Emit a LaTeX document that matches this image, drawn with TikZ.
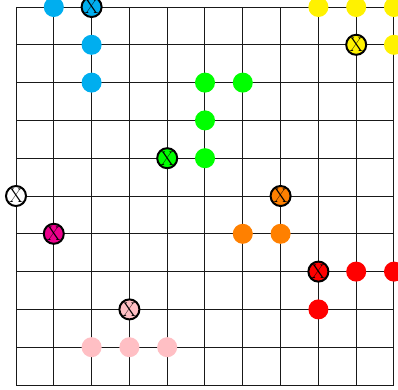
\documentclass[tikz,border=0pt]{standalone}
\definecolor{cCyan}{HTML}{00AEEF}
\definecolor{cYellow}{HTML}{FFF200}
\definecolor{cGreen}{HTML}{00FF00}
\definecolor{cOrange}{HTML}{FF8000}
\definecolor{cRed}{HTML}{FF0000}
\definecolor{cMag}{HTML}{EC008C}
\definecolor{cPink}{HTML}{FFBFC4}
\begin{document}
\begin{tikzpicture}[
  dot/.style={circle,fill=#1,draw=none,minimum size=0.53cm,inner sep=0pt},
  xdot/.style={circle,fill=#1,draw=black,line width=1.5pt,minimum size=0.53cm,inner sep=0pt,
    font=\fontsize{15}{15}\selectfont},
  gridline/.style={line width=0.75pt,black!90}
]
\useasboundingbox (-0.4233,0.1852) rectangle (10.106,-10.132);
\begin{scope}
\clip (-0.4233,0.1852) rectangle (10.106,-10.132);
\draw[gridline] (0,0) grid[step=1] (10,-10);
% cyan
\node[dot=cCyan] (c1) at (1,0) {};
\node[xdot=cCyan] (cx) at (2,0) {X};
\node[dot=cCyan] (c2) at (2,-1) {};
\node[dot=cCyan] (c3) at (2,-2) {};
% yellow
\node[dot=cYellow] (y1) at (8,0) {};
\node[dot=cYellow] (y2) at (9,0) {};
\node[dot=cYellow] (y3) at (10,0) {};
\node[xdot=cYellow] (yx) at (9,-1) {X};
\node[dot=cYellow] (y4) at (10,-1) {};
% green
\node[dot=cGreen] (g1) at (5,-2) {};
\node[dot=cGreen] (g2) at (6,-2) {};
\node[dot=cGreen] (g3) at (5,-3) {};
\node[xdot=cGreen] (gx) at (4,-4) {X};
\node[dot=cGreen] (g4) at (5,-4) {};
% white
\node[xdot=white] (wx) at (0,-5) {X};
% magenta
\node[xdot=cMag] (mx) at (1,-6) {X};
% orange
\node[xdot=cOrange] (ox) at (7,-5) {X};
\node[dot=cOrange] (o1) at (6,-6) {};
\node[dot=cOrange] (o2) at (7,-6) {};
% red
\node[xdot=cRed] (rx) at (8,-7) {X};
\node[dot=cRed] (r1) at (9,-7) {};
\node[dot=cRed] (r2) at (10,-7) {};
\node[dot=cRed] (r3) at (8,-8) {};
% pink
\node[xdot=cPink] (px) at (3,-8) {X};
\node[dot=cPink] (p1) at (2,-9) {};
\node[dot=cPink] (p2) at (3,-9) {};
\node[dot=cPink] (p3) at (4,-9) {};
\end{scope}
\end{tikzpicture}
\end{document}
